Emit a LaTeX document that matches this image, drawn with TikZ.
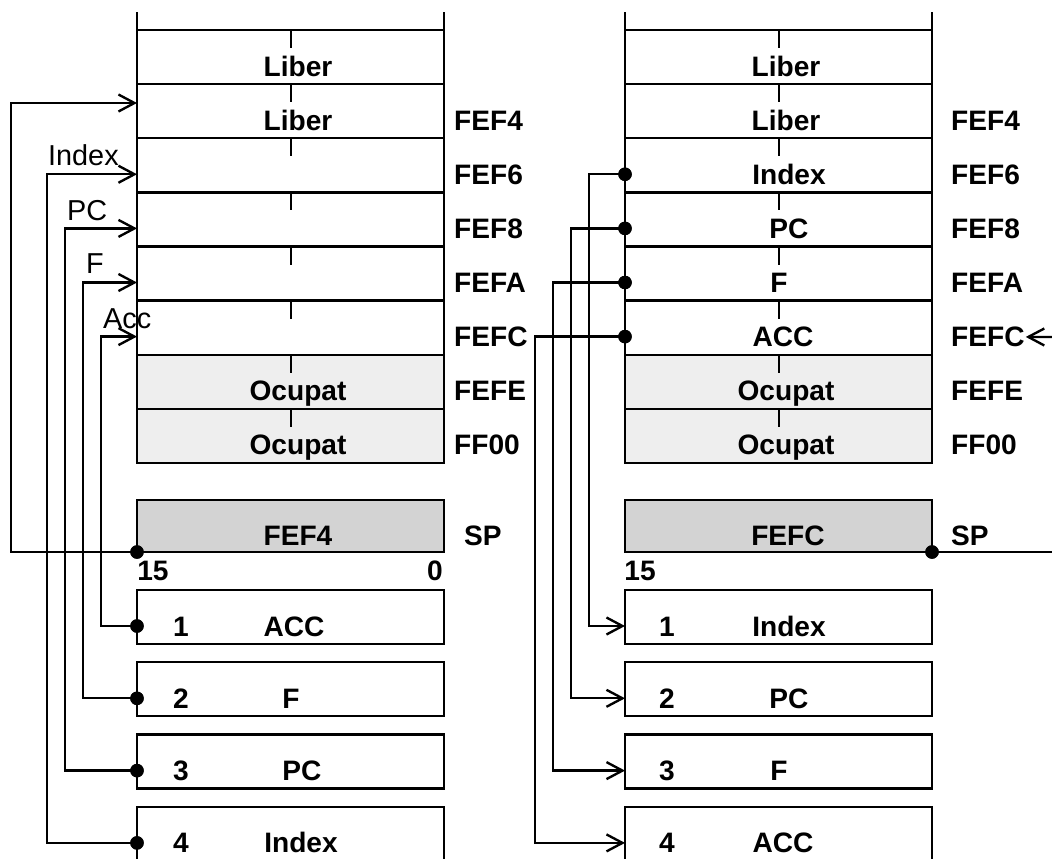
\documentclass[tikz,border=0pt]{standalone}
\usepackage{fontspec}
\setmainfont{Liberation Sans}
\usetikzlibrary{arrows.meta}
\definecolor{ocupgray}{HTML}{EEEEEE}
\definecolor{spgray}{HTML}{D3D3D3}
\begin{document}
\begin{tikzpicture}[x=0.02cm,y=-0.02cm, line width=1.35pt,
  lb/.style={font=\fontsize{16}{18}\selectfont\bfseries, inner sep=0pt, anchor=base},
  lbw/.style={lb, anchor=base west},
  nl/.style={font=\fontsize{16.4}{19}\selectfont, inner sep=0pt, anchor=base west},
  conn/.style={-{Straight Barb[length=3.2mm,width=3.4mm]}},
  dot/.style={circle, fill=black, draw=none, inner sep=0pt, minimum size=0.27cm},
  ocup/.style={fill=ocupgray},
  spbox/.style={fill=spgray, draw=black},
  regbox/.style={draw=black}
]
\useasboundingbox (0,0) rectangle (1052,859);

% ---------------- memory stacks ----------------
\foreach \xl/\xr/\xc in {137/444/291, 625/932/779}{
  \fill[ocup] (\xl,354.75) rectangle (\xr,463);
  \draw (\xl,12) -- (\xl,463) -- (\xr,463) -- (\xr,12);
  \foreach \i in {0,...,7}{
    \pgfmathsetmacro{\ty}{30+54.125*\i}
    \draw (\xl,\ty) -- (\xr,\ty);
    \draw (\xc,\ty) -- (\xc,\ty+18);
  }
}

% left stack texts
\node[lb] (lLib0) at (298,76) {Liber};
\node[lb] (lLib1) at (298,130) {Liber};
\node[lb] (lOc6) at (298,400.75) {Ocupat};
\node[lb] (lOc7) at (298,454.9) {Ocupat};
\node[lbw] (lA1) at (453,130) {FEF4};
\node[lbw] (lA2) at (453,184.25) {FEF6};
\node[lbw] (lA3) at (453,238.4) {FEF8};
\node[lbw] (lA4) at (453,292.5) {FEFA};
\node[lbw] (lA5) at (453,346.6) {FEFC};
\node[lbw] (lA6) at (453,400.75) {FEFE};
\node[lbw] (lA7) at (453,454.9) {FF00};

% right stack texts
\node[lb] (rLib0) at (786,76) {Liber};
\node[lb] (rLib1) at (786,130) {Liber};
\node[lb] (rIdx) at (789,184.25) {Index};
\node[lb] (rPC) at (789,238.4) {PC};
\node[lb] (rF) at (779,292.5) {F};
\node[lb] (rACC) at (783,346.6) {ACC};
\node[lb] (rOc6) at (786,400.75) {Ocupat};
\node[lb] (rOc7) at (786,454.9) {Ocupat};
\node[lbw] (rA1) at (950,130) {FEF4};
\node[lbw] (rA2) at (950,184.25) {FEF6};
\node[lbw] (rA3) at (950,238.4) {FEF8};
\node[lbw] (rA4) at (950,292.5) {FEFA};
\node[lbw] (rA5) at (950,346.6) {FEFC};
\node[lbw] (rA6) at (950,400.75) {FEFE};
\node[lbw] (rA7) at (950,454.9) {FF00};

% ---------------- SP registers ----------------
\draw[spbox] (137,500) rectangle (444,552);
\draw[spbox] (625,500) rectangle (932,552);
\node[lb] (lSPv) at (298,545) {FEF4};
\node[lb] (rSPv) at (788,545) {FEFC};
\node[lbw] (lSP) at (463,545) {SP};
\node[lbw] (rSP) at (950,545) {SP};
\node[lb] (l15) at (153,580) {15};
\node[lb] (l0) at (435,580) {0};
\node[lb] (r15) at (640,580) {15};

% ---------------- register boxes ----------------
\foreach \xl/\xr in {137/444, 625/932}{
  \draw[regbox] (\xl,590) rectangle (\xr,644);
  \draw[regbox] (\xl,662.3) rectangle (\xr,716.3);
  \draw[regbox] (\xl,734.6) rectangle (\xr,788.6);
  \draw (\xl,859) -- (\xl,806.9) -- (\xr,806.9) -- (\xr,859);
}
\node[lb] (lN1) at (181,636) {1};
\node[lb] (lN2) at (181,708.3) {2};
\node[lb] (lN3) at (181,780.6) {3};
\node[lb] (lN4) at (181,852.9) {4};
\node[lb] (lR1) at (294,636) {ACC};
\node[lb] (lR2) at (291,708.3) {F};
\node[lb] (lR3) at (302,780.6) {PC};
\node[lb] (lR4) at (301,852.9) {Index};
\node[lb] (rN1) at (667,636) {1};
\node[lb] (rN2) at (667,708.3) {2};
\node[lb] (rN3) at (667,780.6) {3};
\node[lb] (rN4) at (667,852.9) {4};
\node[lb] (rR1) at (789,636) {Index};
\node[lb] (rR2) at (789,708.3) {PC};
\node[lb] (rR3) at (779,780.6) {F};
\node[lb] (rR4) at (783,852.9) {ACC};

% ---------------- connectors, left ----------------
\coordinate (aL1) at (137,103);
\coordinate (aL2) at (137,174.25);
\coordinate (aL3) at (137,228.4);
\coordinate (aL4) at (137,282.5);
\coordinate (aL5) at (137,336.6);
\node[dot] (dSPl) at (137,552) {};
\node[dot] (dL1) at (137,626) {};
\node[dot] (dL2) at (137,698.3) {};
\node[dot] (dL3) at (137,770.6) {};
\node[dot] (dL4) at (137,842.9) {};
\draw[conn] (dSPl.center) -- (11,552) |- (aL1);
\draw[conn] (dL4.center) -- (47,842.9) |- (aL2);
\draw[conn] (dL3.center) -- (65,770.6) |- (aL3);
\draw[conn] (dL2.center) -- (83,698.3) |- (aL4);
\draw[conn] (dL1.center) -- (101,626) |- (aL5);
\node[nl] (tIdx) at (47,165) {Index};
\node[nl] (tPC) at (66,220) {PC};
\node[nl] (tF) at (85,273) {F};
\node[nl] (tAcc) at (102,328) {Acc};

% ---------------- connectors, right ----------------
\node[dot] (dR2) at (625,174.25) {};
\node[dot] (dR3) at (625,228.4) {};
\node[dot] (dR4) at (625,282.5) {};
\node[dot] (dR5) at (625,336.6) {};
\coordinate (aR1) at (625,626);
\coordinate (aR2) at (625,698.3);
\coordinate (aR3) at (625,770.6);
\coordinate (aR4) at (625,842.9);
\draw[conn] (dR2.center) -- (589,174.25) |- (aR1);
\draw[conn] (dR3.center) -- (571,228.4) |- (aR2);
\draw[conn] (dR4.center) -- (553,282.5) |- (aR3);
\draw[conn] (dR5.center) -- (535,336.6) |- (aR4);
\node[dot] (dSPr) at (932,552) {};
\coordinate (eSP) at (1052,552);
\coordinate (eFC) at (1052,337);
\draw (dSPr.center) -- (eSP);
\draw[conn] (eFC) -- (rA5.east);
% redraw dots on top
\foreach \d in {dSPl,dL1,dL2,dL3,dL4,dR2,dR3,dR4,dR5,dSPr}{
  \fill (\d.center) circle (0.135cm);
}
\end{tikzpicture}
\end{document}
